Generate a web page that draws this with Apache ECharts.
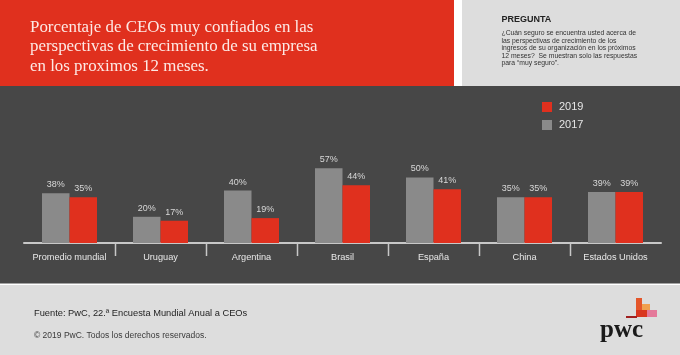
<!DOCTYPE html>
<html><head><meta charset="utf-8">
<script src="https://cdn.jsdelivr.net/npm/echarts@6/dist/echarts.min.js"></script>
<style>html,body{margin:0;padding:0;background:#fff}#c{width:680px;height:355px}</style>
</head><body><div id="c"></div>
<script>
const categories = ['Promedio mundial','Uruguay','Argentina','Brasil','España','China','Estados Unidos'];
const values2017 = [38, 20, 40, 57, 50, 35, 39];
const values2019 = [35, 17, 19, 44, 41, 35, 39];
const seriesNames = ['2017','2019'];
const legendOrder = ['2019','2017'];
const titleText = 'Porcentaje de CEOs muy confiados en las\nperspectivas de crecimiento de su empresa\nen los proximos 12 meses.';
const questionTitle = 'PREGUNTA';
const questionText = '¿Cuán seguro se encuentra usted acerca de\nlas perspectivas de crecimiento de los\ningresos de su organización en los próximos\n12 meses?  Se muestran solo las respuestas\npara “muy seguro”.';
const sourceText = 'Fuente: PwC, 22.ª Encuesta Mundial Anual a CEOs';
const copyrightText = '© 2019 PwC. Todos los derechos reservados.';

const RED = '#e0301e', GREY = '#8a8a8a', DARK = '#474747', LIGHT = '#dddddd';
const SANS = '"Liberation Sans", Arial, sans-serif';
const chart = echarts.init(document.getElementById('c'), null, {renderer:'canvas'});
const sepData = categories.slice(1).map((c, i) => [i + 1, 0]);

chart.setOption({
  animation: false,
  backgroundColor: '#ffffff',
  graphic: [
    {type:'rect', z:-10, shape:{x:0,y:0,width:454,height:86}, style:{fill:RED}},
    {type:'rect', z:-10, shape:{x:462,y:0,width:218,height:86}, style:{fill:LIGHT}},
    {type:'rect', z:-10, shape:{x:0,y:86,width:680,height:197.5}, style:{fill:DARK}},
    {type:'rect', z:-10, shape:{x:0,y:285,width:680,height:70}, style:{fill:LIGHT}},
    {type:'rect', z:5, shape:{x:636,y:298,width:6,height:13}, style:{fill:'#e4562a'}},
    {type:'rect', z:5, shape:{x:642,y:304,width:8,height:7}, style:{fill:'#f0a04e'}},
    {type:'rect', z:5, shape:{x:636,y:310,width:11,height:7}, style:{fill:'#d9361f'}},
    {type:'rect', z:5, shape:{x:647,y:310,width:10,height:7}, style:{fill:'#e4799a'}},
    {type:'rect', z:5, shape:{x:626,y:316,width:11,height:2}, style:{fill:'#a02020'}},
    {type:'text', z:5, left:600, top:318, style:{text:'pwc', font:'bold 25px "Liberation Serif", "DejaVu Serif", serif', fill:'#1a1a1a'}}
  ],
  title: [
    {text: titleText, left: 30, top: 17.5, padding:0, textStyle:{fontFamily:'"Liberation Serif", "DejaVu Serif", serif', fontSize:16.9, fontWeight:'normal', color:'#fde9e5', lineHeight:19.5}},
    {text: questionTitle, left: 501.5, top: 14.5, padding:0, textStyle:{fontFamily:SANS, fontSize:9, fontWeight:'bold', color:'#222', lineHeight:11}},
    {text: questionText, left: 501.5, top: 29.5, padding:0, textStyle:{fontFamily:SANS, fontSize:6.8, fontWeight:'normal', color:'#333', lineHeight:7.5}},
    {text: sourceText, left: 34, top: 308, padding:0, textStyle:{fontFamily:SANS, fontSize:9.3, fontWeight:'normal', color:'#1e1e1e', lineHeight:11}},
    {text: copyrightText, left: 34, top: 331, padding:0, textStyle:{fontFamily:SANS, fontSize:8.5, fontWeight:'normal', color:'#3a3a3a', lineHeight:10}}
  ],
  legend: {
    data: legendOrder, orient:'vertical', left: 542, top: 101.5, padding:0,
    itemWidth: 10, itemHeight: 10, itemGap: 7, icon:'rect',
    textStyle:{fontFamily:SANS, fontSize:11, color:'#e6e6e6', padding:[0,0,0,2]}
  },
  grid: {left: 24, right: 19, top: 112, bottom: 112, containLabel:false},
  xAxis: {
    type:'category', data: categories,
    axisLine:{show:true, lineStyle:{color:'#c8c8c8', width:2}},
    axisTick:{show:false},
    axisLabel:{fontFamily:SANS, fontSize:9.2, color:'#e8e8e8', margin:10, interval:0}
  },
  yAxis: {type:'value', min:0, max:100, show:false, splitLine:{show:false}},
  series: [
    {name: seriesNames[0], type:'bar', data: values2017, barWidth: 27.5, barGap:'0%',
     itemStyle:{color:GREY},
     label:{show:true, position:'top', distance:4, formatter:'{c}%', fontFamily:SANS, fontSize:9, color:'#d8d8d8'}},
    {name: seriesNames[1], type:'bar', data: values2019, barWidth: 27.5, barGap:'0%',
     itemStyle:{color:RED},
     label:{show:true, position:'top', distance:4, formatter:'{c}%', fontFamily:SANS, fontSize:9, color:'#d8d8d8'}},
    {name:'sep', type:'custom', silent:true, clip:false, z:3, data: sepData,
     renderItem: function(params, api){
       const p = api.coord([api.value(0), 0]);
       const w = api.size([1, 0])[0];
       const x = Math.round(p[0] - w/2) + 0.5;
       return {type:'line', shape:{x1:x, y1:p[1]+1, x2:x, y2:p[1]+13}, style:{stroke:'#c8c8c8', lineWidth:1.5}};
     }}
  ]
});
</script></body></html>
